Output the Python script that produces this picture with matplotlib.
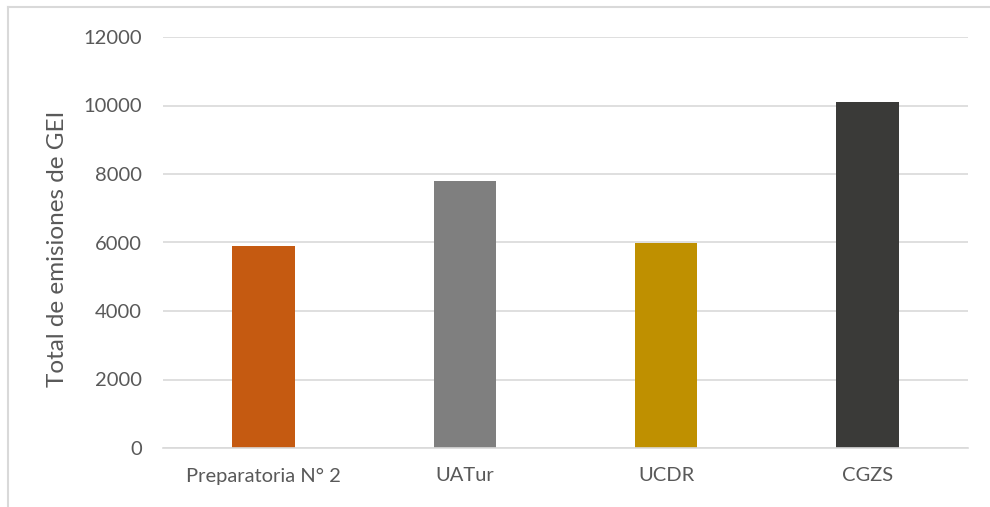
import matplotlib
matplotlib.use('Agg')
import matplotlib.pyplot as plt
from matplotlib.lines import Line2D

# data
categories = ['Preparatoria N° 2', 'UATur', 'UCDR', 'CGZS']
valores = [5900, 7800, 5980, 10100]
colores = ['#C55A11', '#7F7F7F', '#BF9000', '#3A3A38']
yticks = [0, 2000, 4000, 6000, 8000, 10000, 12000]

plt.rcParams['font.family'] = ['Lato', 'DejaVu Sans']
TXT = '#595959'
GRID = '#D9D9D9'

fig = plt.figure(figsize=(9.9, 5.07), dpi=100)
ax = fig.add_axes([163/990, 59/507, 805/990, 411/507])

x = list(range(len(categories)))
ax.bar(x, valores, width=0.31, color=colores, zorder=3)

ax.set_xlim(-0.5, len(categories) - 0.5)
ax.set_ylim(0, 12000)
ax.set_yticks(yticks)
ax.set_yticklabels([str(t) for t in yticks])
ax.set_xticks(x)
ax.set_xticklabels(categories)

ax.yaxis.grid(True, color=GRID, linewidth=1.2, zorder=0)
for s in ['top', 'right', 'left']:
    ax.spines[s].set_visible(False)
ax.spines['bottom'].set_color(GRID)
ax.spines['bottom'].set_linewidth(1.2)
ax.spines['bottom'].set_zorder(4)

ax.tick_params(axis='y', length=0, pad=15, labelsize=14.5, labelcolor=TXT)
ax.tick_params(axis='x', length=0, pad=14, labelsize=14.5, labelcolor=TXT)
ax.set_ylabel('Total de emisiones de GEI', fontsize=17.5, color=TXT, labelpad=11)
ax.yaxis.label.set_y(0.485)

# borde del recorte (izquierda y arriba)
fig.add_artist(Line2D([8/990, 8/990], [0, 1 - 7/507], transform=fig.transFigure,
                      color=GRID, linewidth=1.5))
fig.add_artist(Line2D([8/990, 1], [1 - 7/507, 1 - 7/507], transform=fig.transFigure,
                      color=GRID, linewidth=1.5))

fig.savefig('out.png', dpi=100)
